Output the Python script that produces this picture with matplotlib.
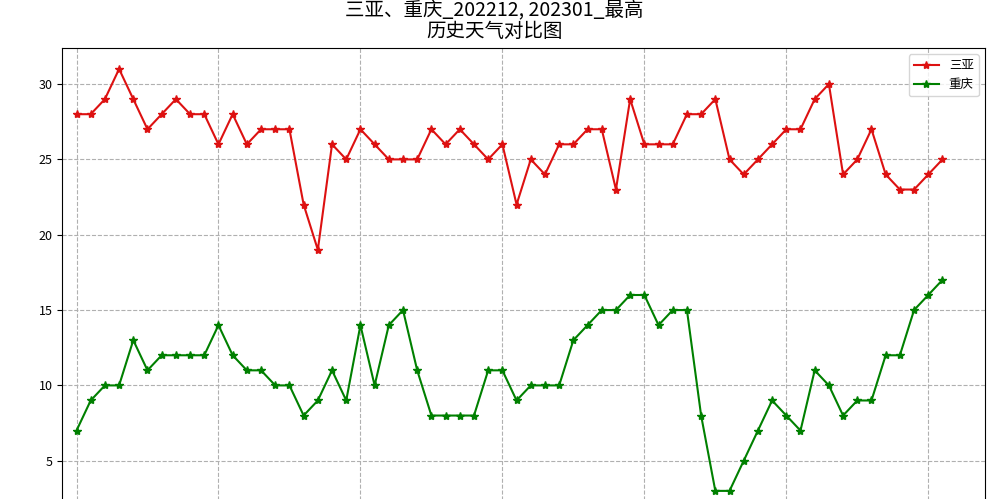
import matplotlib
matplotlib.use("Agg")
import matplotlib.pyplot as plt

plt.rcParams['font.family'] = ['Noto Sans CJK SC', 'DejaVu Sans']
plt.rcParams['axes.unicode_minus'] = False

dates = [f"202212{d:02d}" for d in range(1, 32)] + [f"202301{d:02d}" for d in range(1, 32)]
sanya = [28,28,29,31,29,27,28,29,28,28,26,28,26,27,27,27,22,19,26,25,27,26,25,25,25,27,26,27,26,25,26,
         22,25,24,26,26,27,27,23,29,26,26,26,28,28,29,25,24,25,26,27,27,29,30,24,25,27,24,23,23,24,25]
chongqing = [7,9,10,10,13,11,12,12,12,12,14,12,11,11,10,10,8,9,11,9,14,10,14,15,11,8,8,8,8,11,11,
             9,10,10,10,13,14,15,15,16,16,14,15,15,8,3,3,5,7,9,8,7,11,10,8,9,9,12,12,15,16,17]

fig = plt.figure(figsize=(9.89, 4.99), dpi=100)
ax = fig.add_axes([0.063, -0.026, 0.933, 0.93])
x = list(range(len(dates)))
ax.plot(x, sanya, color='#dd1111', marker='*', lw=1.5, label='三亚')
ax.plot(x, chongqing, color='green', marker='*', lw=1.5, label='重庆')
ax.set_xlim(-1, 64)
ax.set_xticks(x[::10])
ax.set_xticklabels([])
ax.tick_params(labelsize=9)
ax.grid(True, linestyle='--', color='#b0b0b0')
ax.legend(loc='upper right', fontsize=9)
fig.suptitle('三亚、重庆_202212, 202301_最高\n历史天气对比图', fontsize=14, y=1.0, linespacing=1.0)
fig.savefig('out.png', dpi=100)
